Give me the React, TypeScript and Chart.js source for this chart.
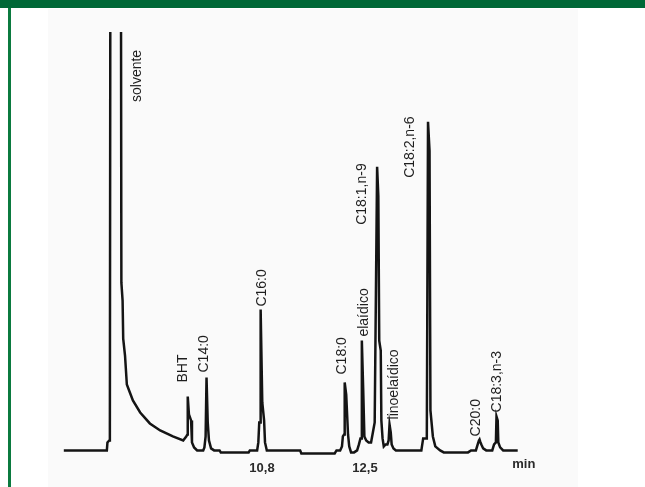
import React, { useEffect, useRef } from "react";
import { Chart, registerables } from "chart.js";

Chart.register(...registerables);

// ---- data (retention time in minutes, detector signal in arbitrary units) ----
const traceTime = [
  7.53, 8.24, 8.25, 8.28, 8.29, 8.30, 8.47, 8.48, 8.50, 8.51, 8.54, 8.57, 8.62, 8.67, 8.79, 8.95, 9.12, 9.33, 9.50,
  9.55, 9.57, 9.575, 9.595, 9.63, 9.645, 9.68, 9.73,
  9.83, 9.85, 9.87, 9.885, 9.905, 9.925, 9.96, 10.01,
  10.10, 10.12, 10.58, 10.60,
  10.72, 10.74, 10.755, 10.775, 10.778, 10.805, 10.835, 10.85, 10.88,
  11.43, 11.45, 12.0, 12.03,
  12.09, 12.12, 12.135, 12.155, 12.165, 12.19, 12.22, 12.24, 12.27, 12.32,
  12.37, 12.40, 12.425, 12.44, 12.448, 12.47, 12.49, 12.52, 12.56,
  12.60, 12.63, 12.66, 12.70, 12.72, 12.735, 12.76, 12.77, 12.79, 12.81, 12.84,
  12.87, 12.89, 12.905, 12.925, 12.94, 12.97, 13.01,
  13.40, 13.43, 13.46, 13.52, 13.54, 13.565, 13.58, 13.62, 13.66, 13.74, 13.80, 14.20, 14.25,
  14.33, 14.36, 14.38, 14.39, 14.40, 14.42, 14.45, 14.50,
  14.60, 14.63, 14.66, 14.67, 14.69, 14.70, 14.73, 14.78, 15.02,
];
const traceSignal = [
  0, 0, 8, 10, 22, 600, 600, 168, 150, 112, 95, 66, 58, 50, 38, 27, 20, 14, 10,
  14, 16, 54, 36, 30, 8, 3, 0,
  0, 3, 14, 73, 28, 10, 2, 0,
  0, -2, -2, 0,
  0, 8, 28, 28, 141, 48, 30, 8, 0,
  0, -3, -3, 0,
  0, 4, 14, 16, 68, 56, 16, 4, -2, -2,
  0, 6, 12, 12, 110, 62, 14, 10, 8,
  8, 18, 28, 284, 255, 110, 100, 30, 12, 4, 6,
  6, 10, 26, 18, 6, 2, 0,
  0, 0, 12, 12, 329, 300, 40, 14, 4, 0, -2, -2, 0,
  0, 6, 10, 11, 9, 6, 2, 0,
  0, 6, 8, 34, 30, 8, 3, 0, 0,
];

const peakNames = [
  "solvente", "BHT", "C14:0", "C16:0", "C18:0", "elaídico",
  "C18:1,n-9", "linoelaídico", "C18:2,n-6", "C20:0", "C18:3,n-3",
];
const peakTimes = [8.47, 9.575, 9.885, 10.778, 12.165, 12.448, 12.70, 12.905, 13.54, 14.39, 14.67];
const peakHeights = [600, 54, 73, 141, 68, 110, 284, 26, 329, 11, 34];

const xTickValues = [10.8, 12.5];
const axisUnit = "min";

// ---- styling / placement (pixels) ----
const labelDx = [16, -5, -2, 1, -3, 2, -15, 5, -18, -3, 1];
const labelGap = [-70, 14, 5, 3, 8, 4, -58, 5, -56, 3, 4];
const X_MIN = 7.269;
const X_MAX = 16.015;
const UNIT_AT = 14.93;

const peakLabelPlugin = {
  id: "peakLabels",
  afterDatasetsDraw(chart: any) {
    const { ctx, chartArea, scales } = chart;
    const xs = scales.x;
    const ys = scales.y;
    ctx.save();
    ctx.fillStyle = "#1e1e1e";
    ctx.font = "14px 'Liberation Sans', Arial, sans-serif";
    ctx.textAlign = "left";
    ctx.textBaseline = "middle";
    peakNames.forEach((name, i) => {
      const x = xs.getPixelForValue(peakTimes[i]) + labelDx[i];
      const top = Math.max(ys.getPixelForValue(peakHeights[i]), chartArea.top);
      const y = top - labelGap[i];
      ctx.save();
      ctx.translate(x, y);
      ctx.rotate(-Math.PI / 2);
      ctx.fillText(name, 0, 0);
      ctx.restore();
    });
    // unit label next to the axis
    const tickY = ys.getPixelForValue(0) + 14;
    ctx.font = "bold 13px 'Liberation Sans', Arial, sans-serif";
    ctx.fillStyle = "#2a2a2a";
    ctx.textBaseline = "middle";
    ctx.fillText(axisUnit, xs.getPixelForValue(UNIT_AT), tickY);
    ctx.restore();
  },
};

export default function App() {
  const canvasRef = useRef<HTMLCanvasElement | null>(null);

  useEffect(() => {
    if (!canvasRef.current) return;
    const points = traceTime.map((t, i) => ({ x: t, y: traceSignal[i] }));
    const chart = new Chart(canvasRef.current, {
      type: "line",
      data: {
        datasets: [
          {
            data: points,
            borderColor: "#141414",
            borderWidth: 2.5,
            pointRadius: 0,
            tension: 0,
            fill: false,
            clip: { left: 5, top: 0, right: 5, bottom: 5 } as any,
          },
        ],
      },
      options: {
        responsive: false,
        animation: false,
        devicePixelRatio: 1,
        layout: { padding: { top: 23, bottom: 9, left: 0, right: 0 } },
        plugins: { legend: { display: false }, tooltip: { enabled: false } },
        scales: {
          x: {
            type: "linear",
            min: X_MIN,
            max: X_MAX,
            grid: { display: false, drawTicks: false },
            border: { display: false },
            afterBuildTicks: (axis: any) => {
              axis.ticks = xTickValues.map((v) => ({ value: v }));
            },
            ticks: {
              autoSkip: false,
              maxRotation: 0,
              padding: 2,
              color: "#2a2a2a",
              font: { family: "'Liberation Sans', Arial, sans-serif", size: 13, weight: "bold" },
              callback: (v: any) => Number(v).toFixed(1).replace(".", ","),
            },
          },
          y: {
            type: "linear",
            display: false,
            min: -8,
            max: 419,
          },
        },
      },
      plugins: [peakLabelPlugin],
    });
    return () => chart.destroy();
  }, []);

  return (
    <div
      style={{
        position: "fixed",
        left: 0,
        top: 0,
        width: 645,
        height: 487,
        background: "#ffffff",
        overflow: "hidden",
      }}
    >
      <div style={{ position: "absolute", left: 0, top: 0, width: 645, height: 8, background: "#006837" }} />
      <div style={{ position: "absolute", left: 8, top: 8, width: 3, height: 479, background: "#0b7a3f" }} />
      <div style={{ position: "absolute", left: 48, top: 9, width: 530, height: 478, background: "#fafafa" }} />
      <canvas
        ref={canvasRef}
        width={530}
        height={478}
        style={{ position: "absolute", left: 48, top: 9, width: 530, height: 478 }}
      />
    </div>
  );
}
